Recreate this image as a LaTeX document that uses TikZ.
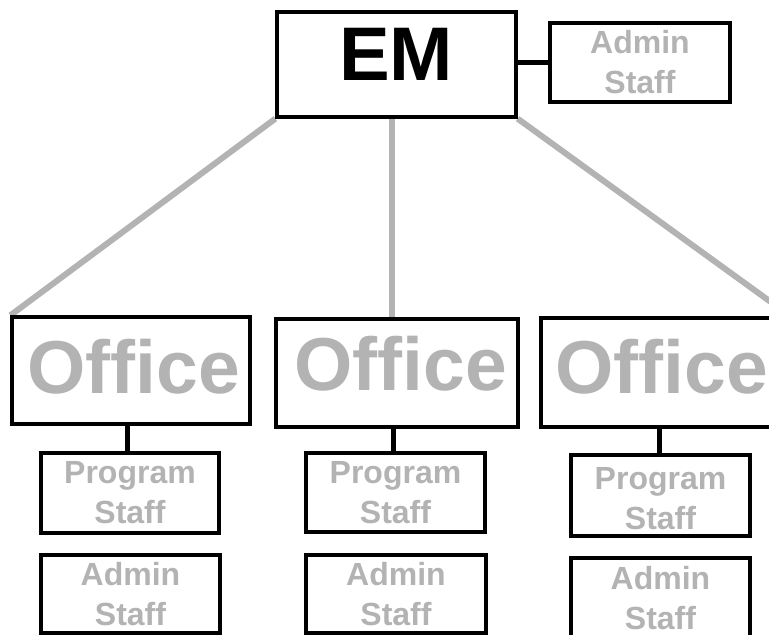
\documentclass[tikz,border=0pt]{standalone}
\usepackage{fontspec}
\setmainfont{Liberation Sans}
\usetikzlibrary{calc,backgrounds}
\definecolor{lightg}{HTML}{B3B3B3}
\begin{document}
\begin{tikzpicture}[x=1pt,y=-1pt,
  box/.style={draw=black,line width=3.3pt,fill=white,inner sep=0pt},
  big/.style={font=\bfseries\fontsize{75}{75}\selectfont,text=lightg,inner sep=0pt},
  small/.style={font=\bfseries\fontsize{32}{40}\selectfont,text=lightg,align=center,inner sep=0pt},
  gline/.style={draw=lightg,line width=6pt},
  bline/.style={draw=black,line width=5pt}]
\clip (0,0) rectangle (769,635);
% boxes
\node[box,minimum width=239pt,minimum height=105pt] (em) at (396.5,64.5) {};
\node[box,minimum width=180pt,minimum height=79pt] (adm) at (640,62.5) {};
\node[box,minimum width=238pt,minimum height=107pt] (offL) at (131,370.5) {};
\node[box,minimum width=242pt,minimum height=108pt] (offM) at (397,373) {};
\node[box,minimum width=248pt,minimum height=109pt] (offR) at (665,372.5) {};
\node[box,minimum width=178pt,minimum height=80pt] (prgL) at (130,493) {};
\node[box,minimum width=179pt,minimum height=78pt] (admL) at (130.5,594) {};
\node[box,minimum width=179pt,minimum height=79pt] (prgM) at (395.5,492.5) {};
\node[box,minimum width=180pt,minimum height=78pt] (admM) at (396,594) {};
\node[box,minimum width=179pt,minimum height=81pt] (prgR) at (660.5,495.5) {};
\node[box,minimum width=179pt,minimum height=80pt] (admR) at (660.5,598) {};
% connectors behind the boxes
\begin{scope}[on background layer]
\fill[white] (0,0) rectangle (769,635);
\draw[gline] (em.south west) -- (offL.north west);
\draw[gline] ([xshift=-4.5pt]em.south) -- ([xshift=-4.5pt]em.south |- offM.north);
\draw[gline] (em.south east) -- (offR.north east);
\draw[bline] (em.east |- adm.west) -- (adm.west);
\draw[bline] ([xshift=-4pt]offL.south) -- ([xshift=-4pt]offL.south |- prgL.north);
\draw[bline] ([xshift=-4pt]offM.south) -- ([xshift=-4pt]offM.south |- prgM.north);
\draw[bline] ([xshift=-6pt]offR.south) -- ([xshift=-6pt]offR.south |- prgR.north);
\end{scope}
% texts
\node[font=\bfseries\fontsize{76}{76}\selectfont,inner sep=0pt] (emt) at (396,54.5) {EM};
\node[small] (admt) at (640,62.5) {Admin\\Staff};
\node[big] (offLt) at (133.5,367) {Office};
\node[big] (offMt) at (400.5,364) {Office};
\node[big] (offRt) at (661.5,367) {Office};
\node[small] (prgLt) at (130,493) {Program\\Staff};
\node[small] (admLt) at (130.5,594.5) {Admin\\Staff};
\node[small] (prgMt) at (395.5,492.5) {Program\\Staff};
\node[small] (admMt) at (396,594.5) {Admin\\Staff};
\node[small] (prgRt) at (660.5,499) {Program\\Staff};
\node[small] (admRt) at (660.5,598) {Admin\\Staff};
\end{tikzpicture}
\end{document}
